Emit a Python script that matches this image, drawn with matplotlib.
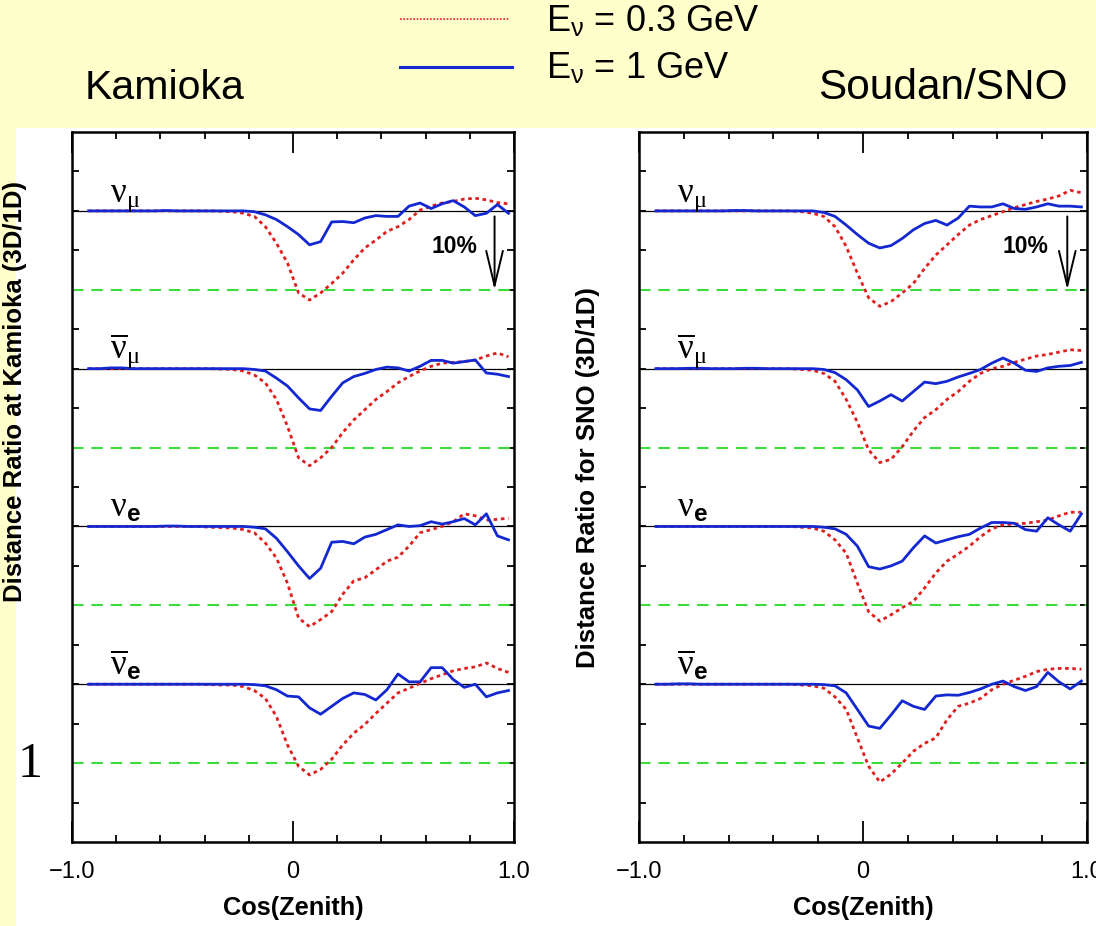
import matplotlib
matplotlib.use("Agg")
import matplotlib.pyplot as plt
from matplotlib.patches import Rectangle
from matplotlib.lines import Line2D
import numpy as np

plt.rcParams['font.family'] = ['Liberation Sans', 'DejaVu Sans']
plt.rcParams['mathtext.fontset'] = 'custom'
plt.rcParams['mathtext.rm'] = 'Liberation Serif'
plt.rcParams['mathtext.it'] = 'Liberation Serif:italic'
plt.rcParams['mathtext.bf'] = 'Liberation Sans:bold'
plt.rcParams['mathtext.sf'] = 'Liberation Sans'

# ---------------- data (percent deviation of 3D/1D ratio from 1) ----------------
cos_zenith = [-0.925, -0.875, -0.825, -0.775, -0.725, -0.675, -0.625, -0.575, -0.525,
              -0.475, -0.425, -0.375, -0.325, -0.275, -0.225, -0.175, -0.125, -0.075,
              -0.025, 0.025, 0.075, 0.125, 0.175, 0.225, 0.275, 0.325, 0.375, 0.425,
              0.475, 0.525, 0.575, 0.625, 0.675, 0.725, 0.775, 0.825, 0.875, 0.925, 0.975]

kam_numu_03 = [0, 0, 0, 0, 0, 0, 0, 0, 0, 0, 0, 0, -0.05,
               -0.1, -0.3, -0.7, -2.0, -4.1, -6.6, -10.4, -11.3, -10.4, -9.2, -7.9, -6.2, -4.7,
               -3.7, -2.6, -2.0, -1.1, 0.1, 0.6, 1.0, 1.2, 1.5, 1.6, 1.4, 1.05, 0.9]
kam_numu_1 = [0, 0, 0, 0, 0, 0, 0, 0.05, 0, 0, 0, 0, 0,
              0, 0, -0.1, -0.5, -1.1, -2.0, -3.0, -4.3, -3.9, -1.4, -1.35, -1.5, -0.9,
              -0.6, -0.7, -0.7, 0.6, 1.0, 0.3, 0.9, 1.3, 0.5, -0.6, -0.3, 0.8, -0.3]

kam_numubar_03 = [0, 0, 0, 0, 0, 0, 0, 0, 0, 0, 0, 0, -0.05,
                  -0.1, -0.3, -0.8, -1.8, -3.9, -7.3, -11.3, -12.3, -11.3, -10.0, -8.1, -6.5, -5.2,
                  -3.9, -2.9, -1.8, -1.0, -0.3, 0.3, 0.7, 0.8, 0.9, 1.1, 1.6, 2.0, 1.5]
kam_numubar_1 = [0, 0, 0.1, 0.1, 0, 0, 0, 0, 0, 0, 0, 0, 0,
                 0, 0, -0.1, -0.3, -1.2, -2.2, -3.7, -5.1, -5.3, -3.5, -1.8, -1.0, -0.6,
                 -0.1, 0.2, 0.1, -0.3, 0.3, 1.05, 1.05, 0.7, 0.9, 1.1, -0.55, -0.7, -1.0]

kam_nue_03 = [0, 0, 0, 0, 0, 0, 0, 0, 0, 0, 0, -0.1, -0.15,
              -0.2, -0.4, -0.8, -2.1, -4.0, -7.2, -11.6, -12.7, -11.8, -10.8, -8.6, -6.9, -6.5,
              -5.5, -4.4, -3.9, -2.5, -0.8, -0.4, 0.0, 0.6, 1.6, 1.35, 0.8, 0.9, 1.05]
kam_nue_1 = [0, 0, 0, 0, 0, 0, 0, 0.05, 0.05, 0, 0, 0, 0,
             0, 0, -0.1, -0.3, -1.5, -3.2, -5.0, -6.6, -5.3, -2.0, -1.9, -2.2, -1.35,
             -1.0, -0.4, 0.2, 0.0, 0.1, 0.6, 0.3, 0.6, 1.0, 0.2, 1.6, -1.2, -1.7]

kam_nuebar_03 = [0, 0, 0, 0, 0, 0, 0, 0, 0, 0, 0, -0.05, -0.1,
                 -0.1, -0.3, -0.8, -1.8, -4.1, -7.7, -10.4, -11.5, -10.8, -9.5, -7.7, -6.2, -5.1,
                 -3.7, -2.4, -1.1, -0.5, 0.1, 0.7, 1.2, 1.7, 2.0, 2.2, 2.7, 2.0, 1.5]
kam_nuebar_1 = [0, 0, 0, 0, 0, 0, 0, 0, 0, 0, 0, 0, 0,
                0, 0, -0.05, -0.2, -0.7, -1.5, -1.6, -3.0, -3.8, -2.8, -1.8, -1.1, -1.3,
                -2.0, -0.7, 1.3, 0.3, 0.3, 2.1, 2.1, 0.6, -0.4, 0.0, -1.6, -1.1, -0.8]

sno_numu_03 = [0, 0, 0, 0, 0, 0, 0, 0, 0, 0, 0, 0, 0,
               -0.1, -0.3, -0.7, -2.0, -4.5, -7.9, -11.0, -12.1, -11.5, -10.4, -9.2, -7.3, -5.6,
               -4.3, -3.0, -1.8, -1.1, -0.6, -0.1, 0.4, 0.8, 1.2, 1.5, 1.9, 2.6, 2.3]
sno_numu_1 = [0, 0, 0, 0, 0, 0, 0, 0.05, 0.05, 0, 0, 0, 0,
              0, 0, -0.2, -0.7, -1.8, -3.0, -4.1, -4.7, -4.4, -3.5, -2.4, -1.6, -1.2,
              -1.8, -0.9, 0.6, 0.5, 0.5, 0.9, 0.3, 0.2, 0.5, 0.9, 0.6, 0.6, 0.5]

sno_numubar_03 = [0, 0, 0, 0, 0, 0, 0, 0, 0, 0, 0, 0, 0,
                  -0.1, -0.2, -0.6, -1.6, -3.9, -6.8, -10.3, -11.9, -11.5, -9.9, -7.9, -6.2, -5.2,
                  -3.9, -2.9, -1.6, -0.6, 0.0, 0.3, 0.8, 1.2, 1.6, 1.8, 2.1, 2.4, 2.3]
sno_numubar_1 = [0, 0, 0, 0.05, 0.05, 0, 0, 0, 0.05, 0.05, 0, 0, 0,
                 0, 0, -0.1, -0.5, -1.4, -2.7, -4.8, -4.1, -3.3, -4.1, -2.9, -1.7, -1.9,
                 -1.6, -1.05, -0.6, -0.1, 0.7, 1.35, 0.7, -0.2, -0.35, 0.1, 0.3, 0.4, 0.8]

sno_nue_03 = [0, 0, 0, 0, 0, 0, 0, 0, 0, 0, 0, 0, 0,
              -0.1, -0.2, -0.6, -1.7, -3.4, -7.2, -10.8, -12.0, -11.2, -10.3, -9.5, -7.8, -5.9,
              -4.4, -3.5, -2.5, -1.3, -0.3, 0.2, 0.3, 0.4, 0.6, 0.8, 1.35, 1.8, 1.8]
sno_nue_1 = [0, 0, 0, 0, 0, 0, 0, 0, 0, 0, 0, 0, 0,
             0, 0, -0.1, -0.3, -1.0, -2.5, -5.1, -5.4, -5.0, -4.4, -2.7, -1.2, -2.1,
             -1.7, -1.3, -1.0, -0.2, 0.5, 0.5, 0.4, -0.4, -0.6, 1.1, 0.2, -0.6, 1.6]

sno_nuebar_03 = [0, 0, 0, 0, 0, 0, 0, 0, 0, 0, 0, 0, 0,
                 -0.1, -0.2, -0.5, -1.6, -3.2, -6.8, -10.4, -12.4, -11.4, -10.0, -8.5, -7.5, -6.8,
                 -4.5, -2.8, -2.4, -1.8, -0.7, 0.0, 0.5, 1.0, 1.6, 1.9, 2.0, 2.0, 1.9]
sno_nuebar_1 = [0, 0, 0.05, 0.05, 0, 0, 0, 0, 0, 0, 0, 0, 0,
                0, 0, -0.05, -0.2, -1.1, -3.2, -5.3, -5.6, -3.9, -2.1, -2.8, -3.2, -1.5,
                -1.35, -1.4, -1.05, -0.6, 0.0, 0.4, -0.3, -0.8, -0.3, 1.5, 0.3, -0.6, 0.4]

flavour_labels = [r'$\mathrm{\nu}_{\mathrm{\mu}}$', r'$\overline{\mathrm{\nu}}_{\mathrm{\mu}}$',
                  r'$\mathrm{\nu}_{\mathbf{e}}$', r'$\overline{\mathrm{\nu}}_{\mathbf{e}}$']
panel_offsets = [0.8, 0.6, 0.4, 0.2]
site_titles = ['Kamioka', 'Soudan/SNO']
ylabels = ['Distance Ratio at Kamioka (3D/1D)', 'Distance Ratio for SNO (3D/1D)']
legend_labels = [r'E$_{\mathsf{\nu}}$ = 0.3 GeV', r'E$_{\mathsf{\nu}}$ = 1 GeV']
xtick_vals = [-1.0, 0.0, 1.0]
xtick_labels = ['\u22121.0', '0', '1.0']

kam_low = [kam_numu_03, kam_numubar_03, kam_nue_03, kam_nuebar_03]
kam_high = [kam_numu_1, kam_numubar_1, kam_nue_1, kam_nuebar_1]
sno_low = [sno_numu_03, sno_numubar_03, sno_nue_03, sno_nuebar_03]
sno_high = [sno_numu_1, sno_numubar_1, sno_nue_1, sno_nuebar_1]

# ---------------- styling ----------------
RED = '#E01E1E'
BLUE = '#1428D2'
GREEN = '#3CDC3C'
YELLOW = '#FFFFCC'

W, H = 1096, 926
fig = plt.figure(figsize=(W / 100, H / 100), dpi=100)
fig.patch.set_facecolor(YELLOW)
fig.add_artist(Rectangle((16 / W, 0), 1, (H - 128) / H, transform=fig.transFigure,
                         facecolor='white', edgecolor='none', zorder=0))


def px_rect(x0, x1, ytop, ybot):
    return [x0 / W, 1 - ybot / H, (x1 - x0) / W, (ybot - ytop) / H]


axL = fig.add_axes(px_rect(72, 514, 132, 842))
axR = fig.add_axes(px_rect(639, 1087, 132, 842))

x = np.array(cos_zenith)
for ax, lows, highs, ylab, ylc in [(axL, kam_low, kam_high, ylabels[0], (-0.102, 0.634)),
                                   (axR, sno_low, sno_high, ylabels[1], (-0.087, 0.513))]:
    ax.set_facecolor('none')
    ax.set_xlim(-1, 1)
    ax.set_ylim(0, 0.9)
    for off, lo, hi, lab in zip(panel_offsets, lows, highs, flavour_labels):
        ax.axhline(off, color='black', lw=0.9, zorder=2)
        ax.axhline(off - 0.1, color=GREEN, lw=1.5, dashes=(5.5, 3.8), zorder=2)
        ax.plot(x, off + np.array(lo) / 100.0, color=RED, lw=2.0, dashes=(1.3, 1.3), zorder=3)
        ax.plot(x, off + np.array(hi) / 100.0, color=BLUE, lw=2.0, zorder=4)
        ax.text(-0.83, off + 0.012, lab, fontsize=25, math_fontfamily='custom',
                ha='left', va='baseline', zorder=5)
    # 10% arrow
    ax.text(0.625, 0.755, '10%', fontsize=16.5, fontweight='bold', ha='left', va='center')
    ax.annotate('', xy=(0.912, 0.7), xytext=(0.912, 0.793),
                arrowprops=dict(arrowstyle='->,head_length=2.5,head_width=0.6',
                                lw=1.4, color='black', shrinkA=0, shrinkB=0))
    # ticks
    ax.set_xticks(xtick_vals)
    ax.set_xticklabels(xtick_labels)
    ax.set_xticks([-0.8, -0.6, -0.4, -0.2, 0.2, 0.4, 0.6, 0.8], minor=True)
    ax.set_yticks(np.linspace(0.05, 0.85, 17))
    ax.set_yticklabels([])
    ax.tick_params(axis='x', which='major', direction='in', length=15, width=1.3,
                   top=True, labelsize=17, pad=14, colors='black')
    ax.tick_params(axis='x', which='minor', direction='in', length=5, width=1.3, top=True)
    ax.tick_params(axis='y', which='major', direction='in', length=5, width=1.3,
                   left=True, right=True)
    for sp in ax.spines.values():
        sp.set_linewidth(1.8)
    ax.set_xlabel('Cos(Zenith)', fontsize=18.3, fontweight='bold', labelpad=9)
    ax.set_ylabel(ylab, fontsize=18.5, fontweight='bold')
    ax.yaxis.set_label_coords(*ylc)

# titles
fig.text(85 / W, 1 - 88 / H, site_titles[0], fontsize=29.5, ha='left', va='center')
fig.text(818 / W, 1 - 88 / H, site_titles[1], fontsize=30.5, ha='left', va='center')

# legend (manual)
fig.add_artist(Line2D([400 / W, 510 / W], [1 - 19 / H, 1 - 19 / H], color=RED, lw=1.2,
                      dashes=(1, 1)))
fig.add_artist(Line2D([400 / W, 512 / W], [1 - 67 / H, 1 - 67 / H], color=BLUE, lw=2.2))
fig.text(546 / W, 1 - 22 / H, legend_labels[0], fontsize=26, ha='left', va='center',
         math_fontfamily='custom')
fig.text(546 / W, 1 - 69 / H, legend_labels[1], fontsize=26, ha='left', va='center',
         math_fontfamily='custom')

# stray slide glyph
fig.text(18 / W, 1 - 777 / H, '1', fontsize=36, family=['Liberation Serif', 'DejaVu Serif'],
         ha='left', va='baseline')

fig.savefig('out.png', dpi=100, facecolor=fig.get_facecolor())
